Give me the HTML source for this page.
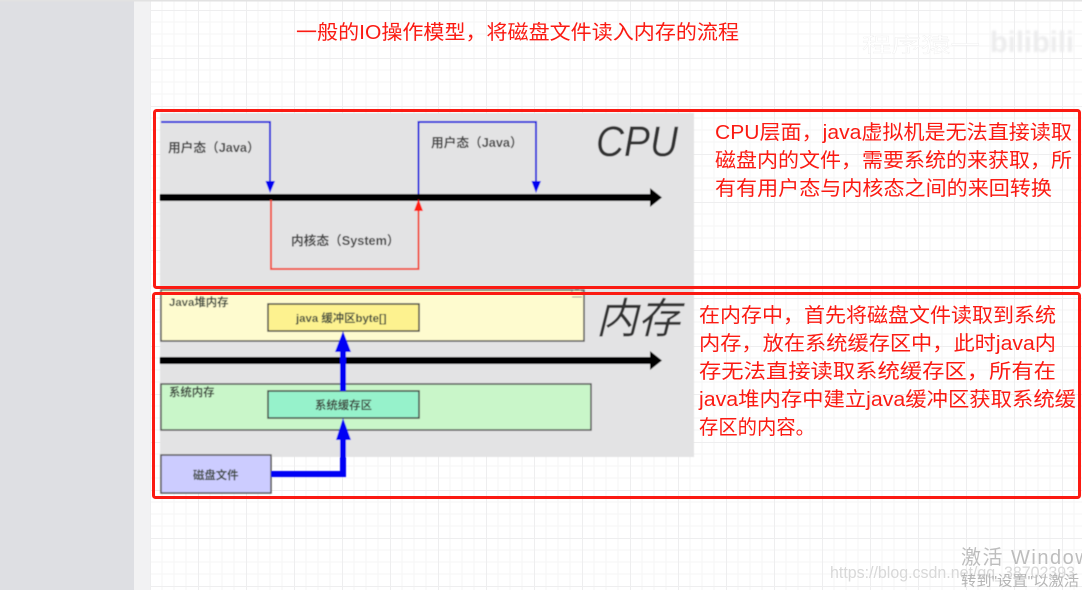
<!DOCTYPE html>
<html lang="zh">
<head>
<meta charset="utf-8">
<title>IO模型</title>
<style>
html,body{margin:0;padding:0;background:#fff;overflow:hidden}
svg{display:block}
text{font-family:"Liberation Sans","Noto Sans CJK SC",sans-serif}
.r{fill:#fb1a12;font-size:20px}
.l{fill:#444;font-size:12.7px;font-weight:bold}
.s{fill:#3f4a3f;font-size:11.4px;font-weight:bold}
</style>
</head>
<body>
<svg width="1082" height="590" viewBox="0 0 1082 590" xmlns="http://www.w3.org/2000/svg">
<defs>
<pattern id="g" x="150" y="10" width="48" height="48" patternUnits="userSpaceOnUse">
<path d="M12 0V48M24 0V48M36 0V48M0 12H48M0 24H48M0 36H48" stroke="#f5f5f6" stroke-width="1" fill="none"/>
<path d="M0.5 0V48M0 0.5H48" stroke="#eeeeef" stroke-width="1" fill="none"/>
</pattern>
<filter id="b" x="-5%" y="-5%" width="110%" height="110%"><feGaussianBlur stdDeviation="0.45"/></filter>
<filter id="b2" x="-10%" y="-30%" width="120%" height="160%"><feGaussianBlur stdDeviation="1"/></filter>
</defs>
<rect width="1082" height="590" fill="#fff"/>
<rect x="150" y="0" width="932" height="590" fill="url(#g)"/>
<rect x="0" y="0" width="134" height="590" fill="#dedfe3"/>
<rect x="134" y="0" width="16" height="590" fill="#f2f2f3"/>
<rect x="0" y="0" width="1082" height="1.5" fill="#e2e2e2"/>

<text x="296" y="39" class="r" textLength="443" lengthAdjust="spacingAndGlyphs">一般的IO操作模型，将磁盘文件读入内存的流程</text>

<g filter="url(#b)">
<rect x="160" y="113" width="534" height="344" fill="#e3e3e4"/>

<!-- memory boxes -->
<rect x="161" y="290" width="423" height="51" fill="#fefbcf" stroke="#555" stroke-width="1.5"/>
<rect x="268" y="304" width="151" height="27" fill="#fdf28f" stroke="#444" stroke-width="1.5"/>
<rect x="161" y="384" width="430" height="46" fill="#c9f6c9" stroke="#555" stroke-width="1.5"/>
<rect x="268" y="391" width="151" height="27" fill="#96f2cb" stroke="#444" stroke-width="1.5"/>
<rect x="161" y="455" width="110" height="38" fill="#ccccff" stroke="#555" stroke-width="1.5"/>

<!-- timelines -->
<path d="M160 197.500H652" stroke="#000" stroke-width="7"/>
<path d="M650 188L662 197.500L650 207Z" fill="#000"/>
<path d="M160 360.500H652" stroke="#000" stroke-width="7"/>
<path d="M650 351L662 360.500L650 370Z" fill="#000"/>

<!-- CPU connectors -->
<path d="M161 122H270V183" fill="none" stroke="#2222dd" stroke-width="2"/>
<path d="M265.500 181H275L270 193Z" fill="#0000f0"/>
<path d="M271 200V269H418.500V210" fill="none" stroke="#f0503f" stroke-width="2"/>
<path d="M414 211H423L418.500 199Z" fill="#ff1a10"/>
<path d="M418.500 194V122H536V183" fill="none" stroke="#2222dd" stroke-width="2"/>
<path d="M531.500 181H541L536 193Z" fill="#0000f0"/>

<!-- memory connectors -->
<path d="M271 474H343V436" fill="none" stroke="#0000f5" stroke-width="6"/>
<path d="M336 440H351L343 418Z" fill="#0000f5"/>
<path d="M343 391V349" fill="none" stroke="#0000f5" stroke-width="6"/>
<path d="M335 352H351L343 331Z" fill="#0000f5"/>

<!-- labels -->
<text x="168" y="152" class="l">用户态（Java）</text>
<text x="431" y="147" class="l">用户态（Java）</text>
<text x="291" y="245" class="l">内核态（System）</text>
<text x="169" y="306" class="s">Java堆内存</text>
<text x="296" y="322" class="s">java 缓冲区byte[]</text>
<text x="169" y="396" class="s">系统内存</text>
<text x="315" y="409" class="s">系统缓存区</text>
<text x="193" y="479" class="s">磁盘文件</text>
<text x="596" y="156" fill="#333" font-size="43" font-style="italic" textLength="82" lengthAdjust="spacingAndGlyphs">CPU</text>
<text x="596" y="333" fill="#333" font-size="42" font-style="italic">内存</text>
<path d="M571 292L577 288L583 292M572 297H582" fill="none" stroke="#999" stroke-width="1"/>
</g>

<!-- red frames -->
<rect x="154.500" y="110.500" width="925" height="177" rx="2" fill="none" stroke="#fb1a12" stroke-width="3"/>
<rect x="153.500" y="293.500" width="926" height="204" rx="2" fill="none" stroke="#fb1a12" stroke-width="3"/>

<!-- red notes -->
<text x="715" y="139" class="r" textLength="357" lengthAdjust="spacingAndGlyphs">CPU层面，java虚拟机是无法直接读取</text>
<text x="715" y="167" class="r" textLength="357" lengthAdjust="spacingAndGlyphs">磁盘内的文件，需要系统的来获取，所</text>
<text x="715" y="195" class="r" textLength="337" lengthAdjust="spacingAndGlyphs">有有用户态与内核态之间的来回转换</text>
<text x="699" y="322" class="r" textLength="357" lengthAdjust="spacingAndGlyphs">在内存中，首先将磁盘文件读取到系统</text>
<text x="699" y="350" class="r" textLength="357" lengthAdjust="spacingAndGlyphs">内存，放在系统缓存区中，此时java内</text>
<text x="699" y="378" class="r" textLength="357" lengthAdjust="spacingAndGlyphs">存无法直接读取系统缓存区，所有在</text>
<text x="699" y="406" class="r" textLength="377" lengthAdjust="spacingAndGlyphs">java堆内存中建立java缓冲区获取系统缓</text>
<text x="699" y="434" class="r" textLength="116" lengthAdjust="spacingAndGlyphs">存区的内容。</text>

<!-- watermarks -->
<text x="862" y="52" fill="#fff" font-size="20" stroke="#e6e6e6" stroke-width=".2" textLength="118" lengthAdjust="spacingAndGlyphs">程序猿一</text>
<text x="990" y="52" fill="#ececed" font-size="30" font-weight="bold" textLength="84" lengthAdjust="spacingAndGlyphs" filter="url(#b2)">bilibili</text>
<text x="961" y="564" fill="#bdbdbd" font-size="20" letter-spacing="1.5">激活 Windows</text>
<text x="830" y="578" fill="#d8d8d8" font-size="16.500" textLength="245" lengthAdjust="spacingAndGlyphs">https://blog.csdn.net/qq_38702393</text>
<text x="961" y="586" fill="#b5b5b5" font-size="14.500" textLength="118" lengthAdjust="spacingAndGlyphs">转到"设置"以激活</text>
</svg>
</body>
</html>
